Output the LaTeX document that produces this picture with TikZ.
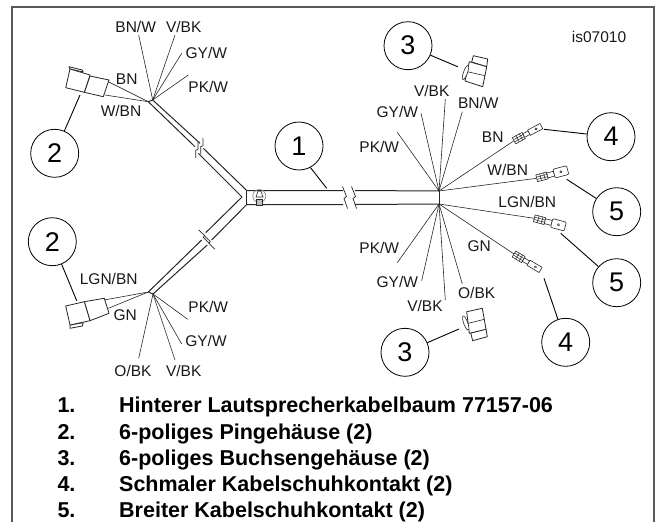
\documentclass[tikz,border=0pt]{standalone}
\usepackage{fontspec}
\setmainfont{Liberation Sans}
\usepackage{xcolor}
\usepackage{tikz}

\begin{document}
\begin{tikzpicture}[
    x=1pt, y=-1pt,
    frame/.style={draw=black!65, line width=1.2pt},
    cable/.style={draw=black!85, line width=1pt},
    wire/.style={draw=black!85, line width=0.6pt},
    leader/.style={draw=black, line width=0.9pt},
    part/.style={draw=black!85, line width=0.8pt, fill=white, line join=round},
    callout/.style={draw, circle, line width=0.8pt, minimum size=48pt, inner sep=0pt, font=\fontsize{27}{27}\selectfont},
    wirelabel/.style={inner sep=0pt, text=black!90, font=\fontsize{15.5}{16}\selectfont},
    legend/.style={anchor=base west, inner sep=0pt, font=\fontsize{21.5}{22}\selectfont\bfseries},
    pics/cablebreak/.style={code={
        \draw[cable, line width=0.7pt] (-2.5,-11) -- (1.5,-1) -- (-1,1) -- (2.5,11);
    }},
    pics/narrowlug/.style={code={
        \draw[part, line width=0.6pt] (0,-3.5) rectangle (11,3.5);
        \draw[wire, line width=0.5pt] (0,-1.2) -- (11,-1.2) (0,1.2) -- (11,1.2) (4,-3.5) -- (4,3.5) (8,-3.5) -- (8,3.5);
        \draw[part, line width=0.6pt] (11,-2) rectangle (17,2);
        \draw[part, line width=0.6pt] (17,-3) rectangle (31,3);
        \draw[wire, line width=0.5pt] (25,0) circle (1.1);
    }},
    pics/widelug/.style={code={
        \draw[part, line width=0.6pt] (0,-3.5) rectangle (11,3.5);
        \draw[wire, line width=0.5pt] (0,-1.2) -- (11,-1.2) (0,1.2) -- (11,1.2) (4,-3.5) -- (4,3.5) (8,-3.5) -- (8,3.5);
        \draw[part, line width=0.6pt] (11,-2.5) rectangle (18,2.5);
        \draw[part, line width=0.6pt, rounded corners=1pt] (18,-4.5) rectangle (32,4.5);
        \draw[wire, line width=0.5pt] (25,0) circle (1.1);
    }}
]
    \useasboundingbox (0,0) rectangle (666,522);

    % Outer frame, open at the bottom
    \draw[frame] (12,522) -- (12,7) -- (654,7) -- (654,522);
    \node[wirelabel] (imageid) at (599,36.7) {is07010};

    % Harness ends and junction
    \coordinate (fanul) at (152.7,100);
    \coordinate (fanull) at (148.3,101.7);
    \coordinate (fanll) at (153,294);
    \coordinate (fanlll) at (148.3,292);
    \coordinate (fanrt) at (439,191);
    \coordinate (fanrb) at (439,204);
    \coordinate (joinin) at (242,197);
    \coordinate (jointop) at (246.7,190.5);
    \coordinate (joinbot) at (246.7,204.5);

    % Cable branches, broken in the middle
    \draw[cable] (fanull) -- (fanul);
    \draw[cable] (fanull) -- (195,146.7) (198.3,153.3) -- (joinin);
    \draw[cable] (fanul) -- (200,143.3) (203.3,148.3) -- (jointop);
    \draw[cable] (fanlll) -- (fanll);
    \draw[cable] (fanlll) -- (201.7,240) (205.7,232.7) -- (joinin);
    \draw[cable] (fanll) -- (207.3,245) (211.7,240) -- (joinbot);
    \draw[cable] (jointop) -- (joinbot);
    \draw[cable] (jointop) -- (343,190.5) (355,190.5) -- (fanrt);
    \draw[cable] (joinbot) -- (343,204.5) (355,204.5) -- (fanrb);
    \draw[cable] (fanrt) -- (fanrb);
    \pic[scale=.75, rotate=-20] at (196.8,149.8) {cablebreak};
    \pic[scale=.75, rotate=-20] at (201.8,146) {cablebreak};
    \pic[scale=.75, rotate=25] at (203.8,236.5) {cablebreak};
    \pic[scale=.75, rotate=25] at (209.5,242.5) {cablebreak};
    \pic at (345,197.5) {cablebreak};
    \pic at (354,197.5) {cablebreak};

    % Cable tie
    \draw[draw=black!45, line width=0.7pt] (259.3,196) circle (6.5);
    \draw[wire] (256,197) -- (258,191) -- (261,191) -- (263,197) -- cycle;
    \draw[part, fill=black!25, line width=0.7pt] (256,199) rectangle (262.5,205);

    % Upper left wires
    \coordinate (ulbnw) at (138.7,35);
    \coordinate (ulvbk) at (175,35);
    \coordinate (ulgyw) at (181.7,53.3);
    \coordinate (ulpkw) at (188.3,75);
    \coordinate (ulbn) at (108.3,81.7);
    \coordinate (ulwbn) at (105,95);
    \draw[wire] (fanul) -- (ulbnw);
    \draw[wire] (fanul) -- (ulvbk);
    \draw[wire] (fanul) -- (ulgyw);
    \draw[wire] (fanul) -- (ulpkw);
    \draw[wire] (fanull) -- (ulbn);
    \draw[wire] (fanull) -- (ulwbn);
    \node[wirelabel] (lbulbnw) at (135.7,26.7) {BN/W};
    \node[wirelabel] (lbulvbk) at (183.7,26.7) {V/BK};
    \node[wirelabel] (lbulgyw) at (206.3,53.3) {GY/W};
    \node[wirelabel] (lbulpkw) at (208.3,86.7) {PK/W};
    \node[wirelabel] (lbulbn) at (126.7,79.3) {BN};
    \node[wirelabel] (lbulwbn) at (121,110.7) {W/BN};

    % Lower left wires
    \coordinate (llobk) at (138.7,358.3);
    \coordinate (llvbk) at (175,360);
    \coordinate (llgyw) at (181.7,344);
    \coordinate (llpkw) at (187.7,319.3);
    \coordinate (lllgn) at (104,300);
    \coordinate (llgn) at (108.3,308.3);
    \draw[wire] (fanll) -- (llobk);
    \draw[wire] (fanll) -- (llvbk);
    \draw[wire] (fanll) -- (llgyw);
    \draw[wire] (fanll) -- (llpkw);
    \draw[wire] (fanlll) -- (lllgn);
    \draw[wire] (fanlll) -- (llgn);
    \node[wirelabel] (lbllobk) at (133,370.7) {O/BK};
    \node[wirelabel] (lbllvbk) at (183.7,370.7) {V/BK};
    \node[wirelabel] (lbllgyw) at (206,340.7) {GY/W};
    \node[wirelabel] (lbllpkw) at (208.3,307.3) {PK/W};
    \node[wirelabel] (lblllgn) at (108.7,279.3) {LGN/BN};
    \node[wirelabel] (lbllgn) at (125.3,315) {GN};

    % Right wires
    \coordinate (rtpkw) at (397.3,132.3);
    \coordinate (rtgyw) at (421,113.3);
    \coordinate (rtvbk) at (445.3,99.3);
    \coordinate (rtbnw) at (462.3,111.7);
    \coordinate (rtbn) at (514,140.7);
    \coordinate (rtwbn) at (536.7,178.3);
    \coordinate (rblgn) at (534.3,218.3);
    \coordinate (rbgn) at (514,254);
    \coordinate (rbpkw) at (397.3,262.7);
    \coordinate (rbgyw) at (421.7,280.7);
    \coordinate (rbvbk) at (445.3,300);
    \coordinate (rbobk) at (462.3,284);
    \draw[wire] (fanrt) -- (rtpkw);
    \draw[wire] (fanrt) -- (rtgyw);
    \draw[wire] (fanrt) -- (rtvbk);
    \draw[wire] (fanrt) -- (rtbnw);
    \draw[wire] (fanrt) -- (rtbn);
    \draw[wire] (fanrt) -- (rtwbn);
    \draw[wire] (fanrb) -- (rblgn);
    \draw[wire] (fanrb) -- (rbgn);
    \draw[wire] (fanrb) -- (rbpkw);
    \draw[wire] (fanrb) -- (rbgyw);
    \draw[wire] (fanrb) -- (rbvbk);
    \draw[wire] (fanrb) -- (rbobk);
    \node[wirelabel] (lbrtpkw) at (379.3,147.3) {PK/W};
    \node[wirelabel] (lbrtgyw) at (397.3,111.7) {GY/W};
    \node[wirelabel] (lbrtvbk) at (431.7,90.7) {V/BK};
    \node[wirelabel] (lbrtbnw) at (478.3,102.7) {BN/W};
    \node[wirelabel] (lbrtbn) at (492.7,136.7) {BN};
    \node[wirelabel] (lbrtwbn) at (507.7,170) {W/BN};
    \node[wirelabel] (lbrblgn) at (527.3,201.7) {LGN/BN};
    \node[wirelabel] (lbrbgn) at (479.3,245.7) {GN};
    \node[wirelabel] (lbrbpkw) at (379.3,248.3) {PK/W};
    \node[wirelabel] (lbrbgyw) at (397.3,282.3) {GY/W};
    \node[wirelabel] (lbrbvbk) at (425,305.7) {V/BK};
    \node[wirelabel] (lbrbobk) at (476.7,292.7) {O/BK};

    % Pin housings
    \draw[part] (70,69) -- (69,66.7) -- (82.3,70) -- (83.3,72) -- cycle;
    \draw[part] (90,76) -- (109,80) -- (103.3,96.7) -- (84.3,92.3) -- cycle;
    \draw[part] (70,69) -- (90,75) -- (84.3,92.3) -- (65.7,87.7) -- cycle;
    \draw[part] (70,325) -- (70,328.3) -- (82.3,326) -- (83.3,322.7) -- cycle;
    \draw[part] (84.3,301.7) -- (104.3,298.3) -- (109,313.3) -- (90,320.7) -- cycle;
    \draw[part] (65.7,306) -- (84.3,301.7) -- (90,320.7) -- (70,325) -- cycle;

    % Socket housings
    \draw[part] (473.3,55.7) -- (487.7,59) -- (486.7,66.7) -- (471.7,62) -- cycle;
    \draw[part] (469.3,61.7) -- (486.7,66.7) -- (482.7,86.7) -- (465,81) -- cycle;
    \draw[wire] (467.3,71.7) -- (485,75.7);
    \draw[part, line width=0.6pt, rotate around={70:(465.5,72.5)}] (465.5,72.5) ellipse (7.5 and 2);
    \draw[part] (470.7,333) -- (472.7,340.7) -- (487.3,336.7) -- (486,329) -- cycle;
    \draw[part] (466.7,311.7) -- (482.3,308.3) -- (486,329.3) -- (469.3,333.3) -- cycle;
    \draw[wire] (468.3,323.3) -- (484.3,319.3);
    \draw[part, line width=0.6pt, rotate around={-70:(465.7,323)}] (465.7,323) ellipse (7.5 and 2);

    % Terminal lugs
    \pic[rotate=28] at (rtbn) {narrowlug};
    \pic[rotate=15] at (rtwbn) {widelug};
    \pic[rotate=-15] at (rblgn) {widelug};
    \pic[rotate=-31] at (rbgn) {narrowlug};

    % Numbered callouts
    \node[callout] (one) at (299,146) {1};
    \node[callout] (twoa) at (54.7,153.3) {2};
    \node[callout] (twob) at (52.3,241.7) {2};
    \node[callout] (threea) at (408,45.7) {3};
    \node[callout] (threeb) at (405,352.3) {3};
    \node[callout] (foura) at (611,136.7) {4};
    \node[callout] (fourb) at (565.7,342.3) {4};
    \node[callout] (fivea) at (616.7,211.7) {5};
    \node[callout] (fiveb) at (616.7,282.7) {5};

    % Leaders
    \coordinate (tipone) at (326.7,188.3);
    \coordinate (tiptwoa) at (80,95);
    \coordinate (tiptwob) at (76.7,300.7);
    \coordinate (tipthreea) at (457.7,66.7);
    \coordinate (tipthreeb) at (459,329);
    \coordinate (tipfoura) at (544,129.3);
    \coordinate (tipfourb) at (544,278.3);
    \coordinate (tipfivea) at (566.7,179.3);
    \coordinate (tipfiveb) at (560.7,233.3);
    \draw[leader] (one.-62) -- (tipone);
    \draw[leader] (twoa) -- (tiptwoa);
    \draw[leader] (twob) -- (tiptwob);
    \draw[leader] (threea) -- (tipthreea);
    \draw[leader] (threeb) -- (tipthreeb);
    \draw[leader] (foura) -- (tipfoura);
    \draw[leader] (fourb) -- (tipfourb);
    \draw[leader] (fivea) -- (tipfivea);
    \draw[leader] (fiveb) -- (tipfiveb);

    % Parts list
    \node[legend] (numa) at (57.3,412.5) {1.};
    \node[legend] (numb) at (57.3,439) {2.};
    \node[legend] (numc) at (57.3,465.5) {3.};
    \node[legend] (numd) at (57.3,491.5) {4.};
    \node[legend] (nume) at (57.3,517) {5.};
    \node[legend] (itema) at (119,412.5) {Hinterer Lautsprecherkabelbaum 77157-06};
    \node[legend] (itemb) at (119,439) {6-poliges Pingehäuse (2)};
    \node[legend] (itemc) at (119,465.5) {6-poliges Buchsengehäuse (2)};
    \node[legend] (itemd) at (119,491.5) {Schmaler Kabelschuhkontakt (2)};
    \node[legend] (iteme) at (119,517) {Breiter Kabelschuhkontakt (2)};
\end{tikzpicture}
\end{document}
